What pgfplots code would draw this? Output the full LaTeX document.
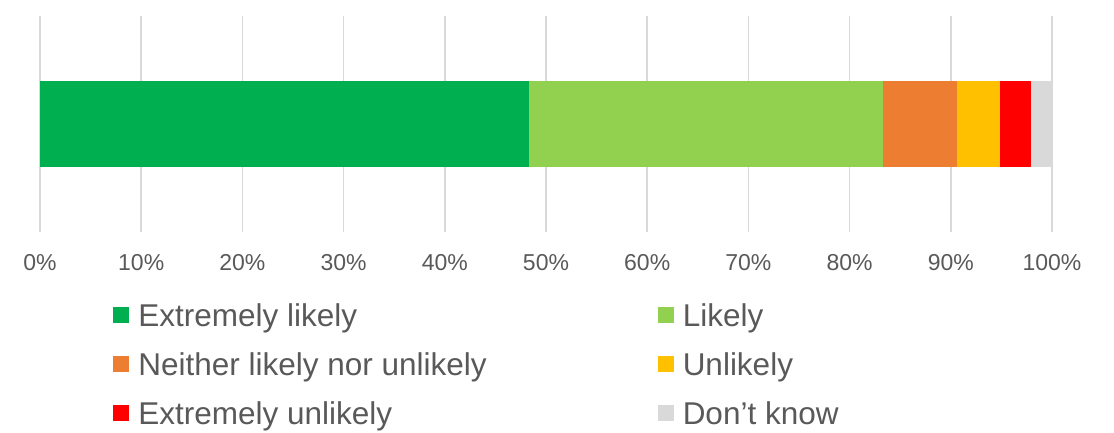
\documentclass[border=0pt]{standalone}
\usepackage{fontspec}
\setmainfont{Liberation Sans}
\usepackage{pgfplots}
\pgfplotsset{compat=1.18}
\definecolor{cA}{HTML}{00B050}
\definecolor{cB}{HTML}{92D050}
\definecolor{cC}{HTML}{ED7D31}
\definecolor{cD}{HTML}{FFC000}
\definecolor{cE}{HTML}{FF0000}
\definecolor{cF}{HTML}{D9D9D9}
\definecolor{txt}{HTML}{595959}
\begin{document}
\begin{tikzpicture}
\useasboundingbox (-20pt,-100.5pt) rectangle (537pt,116pt);
\begin{axis}[
  scale only axis,
  width=506pt, height=108pt,
  xbar stacked,
  bar width=43pt,
  xmin=0, xmax=100, ymin=-0.5, ymax=0.5,
  xtick={0,10,...,100},
  ytick=\empty,
  xticklabel={\pgfmathprintnumber{\tick}\%},
  /pgf/number format/assume math mode=true,
  xticklabel style={anchor=base, yshift=-19pt, font=\fontsize{11.5}{14}\selectfont, text=txt},
  xmajorgrids,
  grid style={draw=cF, line width=0.75pt},
  axis line style={draw=none},
  tick style={draw=none},
  legend columns=2,
  legend image code/.code={\fill[#1,draw=none] (0pt,1.6pt) rectangle (8pt,9.6pt);},
  legend style={
    at={(0.0721,-0.324)}, anchor=north west,
    draw=none, fill=none, inner sep=0pt,
    font=\fontsize{15.75}{18}\selectfont, text=txt,
    nodes={inner sep=0pt, text height=12pt, text depth=3.5pt},
    cells={anchor=base west},
    row sep=9pt,
    /tikz/every odd column/.style={column sep=4.5pt},
    /tikz/column 2/.style={column sep=85.5pt},
  },
]
\addplot[fill=cA, draw=none] coordinates {(48.3,0)};
\addplot[fill=cB, draw=none] coordinates {(35.0,0)};
\addplot[fill=cC, draw=none] coordinates {(7.3,0)};
\addplot[fill=cD, draw=none] coordinates {(4.3,0)};
\addplot[fill=cE, draw=none] coordinates {(3.0,0)};
\addplot[fill=cF, draw=none] coordinates {(2.1,0)};
\legend{Extremely likely, Likely, Neither likely nor unlikely, Unlikely, Extremely unlikely, Don’t know}
\end{axis}
\end{tikzpicture}
\end{document}
